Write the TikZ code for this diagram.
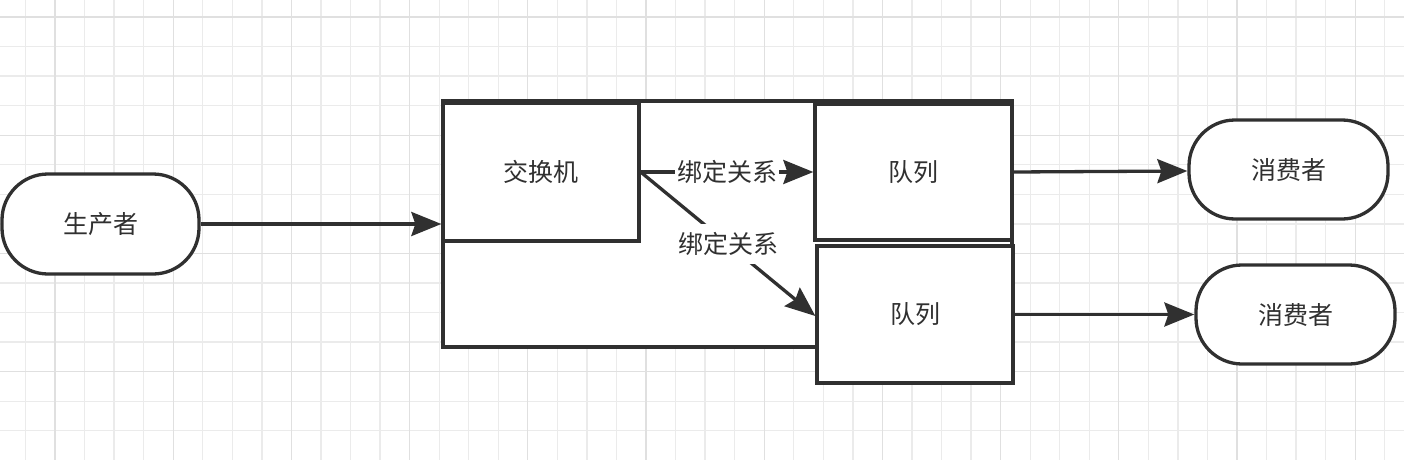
\documentclass[tikz,border=0pt]{standalone}
\usepackage{fontspec}
\newfontfamily\cjk{Noto Sans CJK SC}
\usetikzlibrary{arrows.meta}
\definecolor{linec}{HTML}{303030}
\definecolor{gridminor}{HTML}{EBEBEB}
\definecolor{gridmajor}{HTML}{E0E0E0}
\tikzset{
  box/.style={draw=linec, line width=3.3pt, fill=white, inner sep=0pt, text=linec,
    font=\cjk\fontsize{25}{30}\selectfont},
  term/.style={box, rounded corners=46pt},
  arr/.style={draw=linec, line width=3.3pt, -{Stealth[length=30pt,width=24pt,inset=4pt]}},
  lbl/.style={fill=white, text=linec, inner xsep=2pt, inner ysep=8pt,
    font=\cjk\fontsize{25}{30}\selectfont},
  gminor/.style={draw=gridminor, line width=1.3pt},
  gmajor/.style={draw=gridmajor, line width=1.3pt}
}
\begin{document}
\begin{tikzpicture}[x=1pt,y=-1pt]
\useasboundingbox (0,0) rectangle (1404,460);
\fill[white] (0,0) rectangle (1404,460);
% grid
\foreach \k in {0,...,46} \draw[gminor] ({25.45+29.55*\k},0) -- ++(0,460);
\foreach \k in {0,...,14} \draw[gminor] (0,{17+29.55*\k}) -- ++(1404,0);
\foreach \k in {0,...,11} \draw[gmajor] ({55+118.2*\k},0) -- ++(0,460);
\foreach \k in {0,...,3} \draw[gmajor] (0,{17+118.2*\k}) -- ++(1404,0);
% nodes
\node[box, minimum width=569pt, minimum height=246pt] (outer) at (727.5,224) {};
\node[box, minimum width=196pt, minimum height=138pt] (ex) at (541,172) {交换机};
\node[box, minimum width=197pt, minimum height=136pt] (q1) at (913.5,172) {队列};
\node[box, minimum width=196pt, minimum height=137pt] (q2) at (915,314.5) {队列};
\node[term, minimum width=197pt, minimum height=100pt] (prod) at (100.5,224) {生产者};
\node[term, minimum width=199pt, minimum height=99pt] (c1) at (1288.5,169.5) {消费者};
\node[term, minimum width=199pt, minimum height=99pt] (c2) at (1295.5,314.5) {消费者};
% connectors
\draw[arr] (prod.east) -- (outer.west);
\draw[arr] (ex.east) -- node[lbl, midway] (l1) {绑定关系} (q1.west);
\draw[arr] (ex.east) -- node[lbl, midway] (l2) {绑定关系} ([yshift=-1.5pt]q2.west);
\draw[arr] (q1.east) -- ([yshift=-1.5pt]c1.west);
\draw[arr] (q2.east) -- (c2.west);
\end{tikzpicture}
\end{document}
